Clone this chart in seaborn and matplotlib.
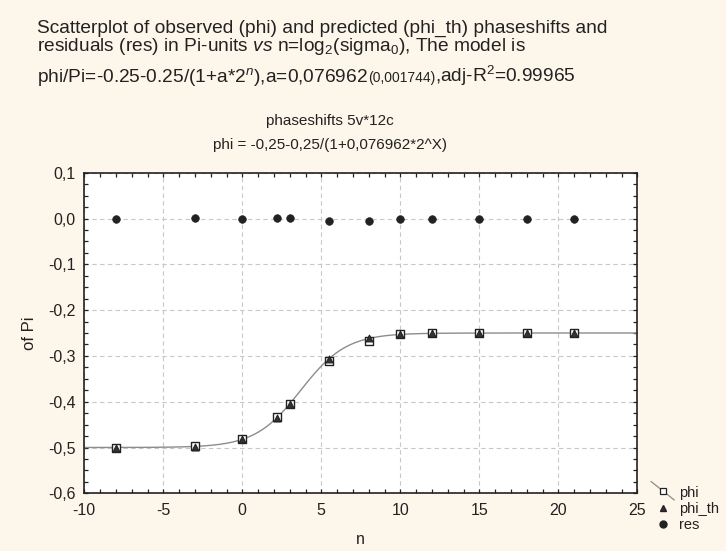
import numpy as np
import pandas as pd
import matplotlib
matplotlib.use("Agg")
import matplotlib.pyplot as plt
from matplotlib.lines import Line2D
from matplotlib.legend_handler import HandlerLine2D
from matplotlib.ticker import MultipleLocator, FixedLocator
import seaborn as sns

# observed / predicted phaseshifts (in units of Pi) and residuals vs n = log2(sigma0)
n_vals = [-8, -3, 0, 2.17, 3, 5.5, 8, 10, 12, 15, 18, 21]
phi = [-0.500, -0.497, -0.482, -0.434, -0.404, -0.311, -0.267, -0.253, -0.251, -0.250, -0.250, -0.250]
phi_th = [-0.500, -0.498, -0.482, -0.436, -0.405, -0.306, -0.262, -0.253, -0.251, -0.250, -0.250, -0.250]
res = [0.000, 0.001, 0.000, 0.002, 0.001, -0.005, -0.005, 0.000, 0.000, 0.000, 0.000, 0.000]

# fitted model parameter
a_fit = 0.076962

x_ticks = [-10, -5, 0, 5, 10, 15, 20, 25]
x_ticklabels = ["-10", "-5", "0", "5", "10", "15", "20", "25"]
y_ticks = [0.1, 0.0, -0.1, -0.2, -0.3, -0.4, -0.5, -0.6]
y_ticklabels = ["0,1", "0,0", "-0,1", "-0,2", "-0,3", "-0,4", "-0,5", "-0,6"]

sns.set_theme(style="white")
plt.rcParams["font.family"] = ["Liberation Sans", "DejaVu Sans"]
plt.rcParams["mathtext.fontset"] = "custom"
plt.rcParams["mathtext.rm"] = "Liberation Sans"
plt.rcParams["mathtext.it"] = "Liberation Sans:italic"
plt.rcParams["mathtext.bf"] = "Liberation Sans:bold"

BG = "#fdf6ea"
INK = "#222222"

fig = plt.figure(figsize=(7.26, 5.51), dpi=100, facecolor=BG)
ax = fig.add_axes([84.3 / 726, 1 - 493.3 / 551, (637.3 - 84.3) / 726, (493.3 - 172.7) / 551])
ax.set_facecolor("white")

df = pd.DataFrame({"n": n_vals, "phi": phi, "phi_th": phi_th, "res": res})
curve = pd.DataFrame({"n": np.linspace(-10, 25, 500)})
curve["fit"] = -0.25 - 0.25 / (1 + a_fit * 2.0 ** curve["n"])

sns.lineplot(data=curve, x="n", y="fit", ax=ax, color="#8c8c8c", lw=1.0, zorder=2)
sns.scatterplot(data=df, x="n", y="phi", ax=ax, marker="s", s=30,
                facecolor="white", edgecolor=INK, linewidth=1.0, zorder=3)
sns.scatterplot(data=df, x="n", y="phi_th", ax=ax, marker="^", s=24,
                facecolor="#333333", edgecolor=INK, linewidth=0.8, zorder=4)
sns.scatterplot(data=df, x="n", y="res", ax=ax, marker="o", s=30,
                color=INK, edgecolor=INK, linewidth=0.5, zorder=4)

ax.set_xlim(-10, 25)
ax.set_ylim(-0.6, 0.1)
ax.xaxis.set_major_locator(FixedLocator(x_ticks))
ax.set_xticklabels(x_ticklabels)
ax.yaxis.set_major_locator(FixedLocator(y_ticks))
ax.set_yticklabels(y_ticklabels)
ax.xaxis.set_minor_locator(MultipleLocator(1))
ax.yaxis.set_minor_locator(MultipleLocator(0.025))
ax.tick_params(which="both", direction="in", top=True, right=True, bottom=True, left=True,
               length=3.2, width=0.9, color=INK, labelsize=11.5, labelcolor=INK)
ax.tick_params(axis="y", pad=6)
ax.tick_params(axis="x", pad=7)

ax.grid(True, which="major", color="#c8c8c8", linestyle=(0, (4, 3)), linewidth=0.8)
for side in ["top", "bottom", "left", "right"]:
    ax.spines[side].set_visible(True)
    ax.spines[side].set_color(INK)
    ax.spines[side].set_linewidth(1.2)

ax.set_xlabel("n", fontsize=11.5, color=INK, labelpad=10)
ax.set_ylabel("of Pi", fontsize=12, color=INK, labelpad=8)


# legend: the phi entry shows the fitted line running diagonally through its marker
class DiagonalHandler(HandlerLine2D):
    def create_artists(self, legend, orig_handle, xdescent, ydescent, width, height, fontsize, trans):
        x0, x1 = -xdescent, width - xdescent
        y0, y1 = height - ydescent + 4, -ydescent - 2
        line = Line2D([x0, x1], [y0, y1], color="#8c8c8c", lw=0.9)
        line.set_transform(trans)
        mk = Line2D([(x0 + x1) / 2], [(y0 + y1) / 2], marker="s", markersize=5,
                    markerfacecolor="white", markeredgecolor=INK, markeredgewidth=0.9, ls="none")
        mk.set_transform(trans)
        return [line, mk]


h_phi = Line2D([], [], color="#8c8c8c", marker="s")
h_th = Line2D([], [], ls="none", marker="^", markersize=5, markerfacecolor="#333333", markeredgecolor=INK)
h_res = Line2D([], [], ls="none", marker="o", markersize=5, markerfacecolor=INK, markeredgecolor=INK)
fig.legend([h_phi, h_th, h_res], ["phi", "phi_th", "res"],
           handler_map={h_phi: DiagonalHandler()},
           loc="center left", bbox_to_anchor=(651 / 726, 1 - 509 / 551),
           frameon=False, fontsize=10.5, handlelength=1.6, handletextpad=0.35,
           labelspacing=0.12, borderpad=0, borderaxespad=0, labelcolor=INK)

# headline describing the model
tx = 37 / 726
fs = 13.8
fig.text(tx, 1 - 33 / 551, "Scatterplot of observed (phi) and predicted (phi_th) phaseshifts and",
         fontsize=fs, color=INK, va="baseline")
fig.text(tx, 1 - 51 / 551,
         r"residuals (res) in Pi-units $\it{vs}$ n=log$_2$(sigma$_0$), The model is",
         fontsize=fs, color=INK, va="baseline")

# third line: the standard error of a is set in a smaller size on the same baseline
y3 = 1 - 82 / 551
renderer = fig.canvas.get_renderer()
pieces = [(r"phi/Pi=-0.25-0.25/(1+a*2$^n$),a=0,076962", fs),
          ("(0,001744)", 10),
          (r",adj-R$^2$=0.99965", fs)]
x_cur = tx
for txt, size in pieces:
    t = fig.text(x_cur, y3, txt, fontsize=size, color=INK, va="baseline")
    bb = t.get_window_extent(renderer=renderer)
    x_cur = bb.x1 / fig.bbox.width

# chart subtitles
cx = 330 / 726
fig.text(cx, 1 - 125 / 551, "phaseshifts 5v*12c", fontsize=11, color=INK, ha="center", va="baseline")
fig.text(cx, 1 - 149.5 / 551, "phi = -0,25-0,25/(1+0,076962*2^X)", fontsize=11, color=INK,
         ha="center", va="baseline")

fig.savefig("out.png", dpi=100, facecolor=BG)
